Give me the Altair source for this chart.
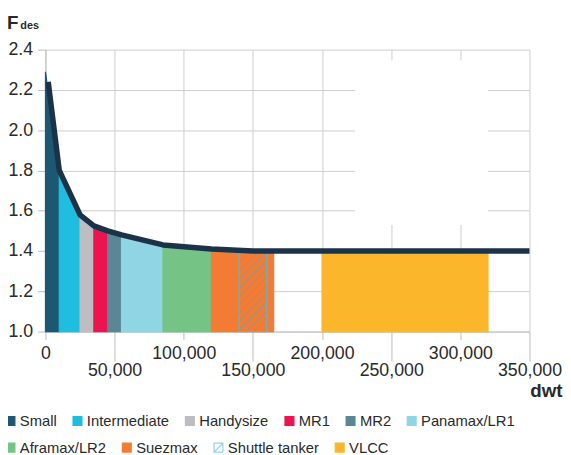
import altair as alt
import pandas as pd
import numpy as np

# ---------------- data ----------------
classes = ["Small", "Intermediate", "Handysize", "MR1", "MR2", "Panamax/LR1",
           "Aframax/LR2", "Suezmax", "Shuttle tanker", "VLCC"]
fill_colors = ["#1d5872", "#1fbde0", "#bdbdc2", "#eb1450", "#5a8796", "#8fd5e3",
               "#75c486", "#f47b33", "#ffffff", "#fbb62b"]
stroke_colors = ["#1d5872", "#1fbde0", "#bdbdc2", "#eb1450", "#5a8796", "#8fd5e3",
                 "#75c486", "#f47b33", "#8fd5ea", "#fbb62b"]
legend_row = [1, 1, 1, 1, 1, 1, 2, 2, 2, 2]

band_start = [0, 10000, 25000, 35000, 45000, 55000, 85000, 120000, 140000, 200000]
band_end = [10000, 25000, 35000, 45000, 55000, 85000, 120000, 165000, 160000, 320000]
top_start = [2.29, 1.80, 1.58, 1.525, 1.50, 1.48, 1.43, 1.41, 1.39, 1.40]
top_end = [1.80, 1.58, 1.525, 1.50, 1.48, 1.43, 1.41, 1.40, 1.39, 1.40]

curve_dwt = [2000, 10000, 25000, 35000, 45000, 55000, 85000, 120000, 150000, 350000]
curve_f = [2.24, 1.80, 1.58, 1.525, 1.50, 1.48, 1.43, 1.41, 1.40, 1.40]

x_ticks = [0, 50000, 100000, 150000, 200000, 250000, 300000, 350000]
y_ticks = [1.0, 1.2, 1.4, 1.6, 1.8, 2.0, 2.2, 2.4]
X_DOMAIN = [0, 350000]
Y_DOMAIN = [1.0, 2.4]
BASE = 1.0
HATCHED = "Shuttle tanker"

# ---------------- layout / style ----------------
W, H = 491, 286
FONT = "Liberation Sans"
TXT = "#2a2a2a"
SYM = "M-1,-1H1V1H-1Z M-1,1L1,-1"
LEG_X = -43
LEG_Y = [369, 396]

# ---------------- tables ----------------
def band_rows(row):
    rows = []
    for c, s, e, ts, te, r in zip(classes, band_start, band_end, top_start, top_end, legend_row):
        if c == HATCHED or r != row:
            continue
        rows.append({"class": c, "dwt": s, "F": ts, "base": BASE})
        rows.append({"class": c, "dwt": e, "F": te, "base": BASE})
    return pd.DataFrame(rows)

curve_df = pd.DataFrame({"dwt": curve_dwt, "F": curve_f})

hi = classes.index(HATCHED)
shuttle_df = pd.DataFrame({"dwt": [band_start[hi]], "dwt2": [band_end[hi]],
                           "F": [top_start[hi]], "F2": [BASE]})

# hatch lines (45 degrees in screen space) derived from the shuttle range
ppx = W / (X_DOMAIN[1] - X_DOMAIN[0])
ppy = H / (Y_DOMAIN[1] - Y_DOMAIN[0])
sx0, sx1 = band_start[hi] * ppx, band_end[hi] * ppx
sy0, sy1 = 0.0, (top_start[hi] - Y_DOMAIN[0]) * ppy
spacing = 8.5
hrows = []
for c in np.arange(sy0 - sx1 + spacing / 2, sy1 - sx0, spacing):
    a = max(sx0, sy0 - c)
    b = min(sx1, sy1 - c)
    if b > a:
        hrows.append({"dwt": a / ppx, "dwt2": b / ppx,
                      "F": Y_DOMAIN[0] + (a + c) / ppy, "F2": Y_DOMAIN[0] + (b + c) / ppy})
hatch_df = pd.DataFrame(hrows)

dummy = pd.DataFrame({"k": [0]})

# ---------------- scales / axes ----------------
xs = alt.Scale(domain=X_DOMAIN, nice=False, zero=False)
ys = alt.Scale(domain=Y_DOMAIN, nice=False, zero=False)

odd = "datum.value % 100000 != 0"
x_axis = alt.Axis(
    values=x_ticks, format=",.0f", labelFlush=False, labelOverlap=False,
    tickSize={"condition": {"test": odd, "value": 30}, "value": 8},
    labelPadding={"condition": {"test": odd, "value": 1}, "value": 5},
    title="dwt", titleX=524, titleY=66, titleAlign="right",
    titleBaseline="alphabetic", titleFontSize=19, titleFontWeight="bold",
    titleColor=TXT, titleFont=FONT,
)
y_axis = alt.Axis(values=y_ticks, format=".1f", title=None, tickSize=8,
                  labelPadding=5, labelFlush=False)

X = lambda f: alt.X(f, scale=xs, axis=x_axis)
Y = lambda f: alt.Y(f, scale=ys, axis=y_axis)


def area_layer(row):
    idx = [i for i, r in enumerate(legend_row) if r == row]
    dom = [classes[i] for i in idx]
    fsc = alt.Scale(domain=dom, range=[fill_colors[i] for i in idx])
    ssc = alt.Scale(domain=dom, range=[stroke_colors[i] for i in idx])
    leg = alt.Legend(
        title=None, orient="none", legendX=LEG_X, legendY=LEG_Y[row - 1],
        direction="horizontal", columnPadding=13,
        labelFont=FONT, labelFontSize=15, labelColor=TXT, labelOffset=2,
        symbolType=SYM, symbolSize=81, symbolOffset=0, symbolStrokeWidth=1.2,
        labelLimit=300,
    )
    return alt.Chart(band_rows(row)).mark_area(interpolate="linear", strokeWidth=1.2).encode(
        x=X("dwt:Q"), y=Y("F:Q"), y2="base:Q",
        fill=alt.Fill("class:N", scale=fsc, legend=leg),
        stroke=alt.Stroke("class:N", scale=ssc, legend=leg),
        detail="class:N",
    )


# ---------------- layers ----------------
blank = alt.Chart(dummy).mark_rect(color="white").encode(
    x=alt.value(314), x2=alt.value(449), y=alt.value(11), y2=alt.value(178))

areas1 = area_layer(1)
areas2 = area_layer(2)

shuttle = alt.Chart(shuttle_df).mark_rect(
    fill="transparent", stroke="#6db3c3", strokeWidth=1.3
).encode(x=X("dwt:Q"), x2="dwt2:Q", y=Y("F:Q"), y2="F2:Q")

hatch = alt.Chart(hatch_df).mark_rule(color="#6a9fa8", strokeWidth=0.8, opacity=0.9).encode(
    x=X("dwt:Q"), x2="dwt2:Q", y=Y("F:Q"), y2="F2:Q")

line = alt.Chart(curve_df).mark_line(
    color="#1b3349", strokeWidth=5.5, strokeJoin="round", strokeCap="butt"
).encode(x=X("dwt:Q"), y=Y("F:Q"))

t_f = alt.Chart(dummy).mark_text(
    text="F", font=FONT, fontSize=19, fontWeight="bold", align="left",
    baseline="alphabetic", color=TXT
).encode(x=alt.value(-39), y=alt.value(-20.5))
t_des = alt.Chart(dummy).mark_text(
    text="des", font=FONT, fontSize=11, fontWeight="bold", align="left",
    baseline="alphabetic", color=TXT
).encode(x=alt.value(-25.5), y=alt.value(-20.5))

chart = alt.layer(blank, areas1, areas2, shuttle, hatch, line, t_f, t_des).resolve_scale(
    fill="independent", stroke="independent"
).properties(
    width=W, height=H,
    autosize=alt.AutoSizeParams(type="none"),
    padding={"left": 38, "top": 39, "right": 34, "bottom": 124},
).configure_view(stroke=None).configure_axis(
    labelFont=FONT, labelFontSize=18, labelColor=TXT,
    gridColor="#cdcdcd", gridWidth=1, domainColor="#bdbdbd", tickColor="#bdbdbd",
)

chart.save("out.html", embed_options={"renderer": "svg", "actions": False})
